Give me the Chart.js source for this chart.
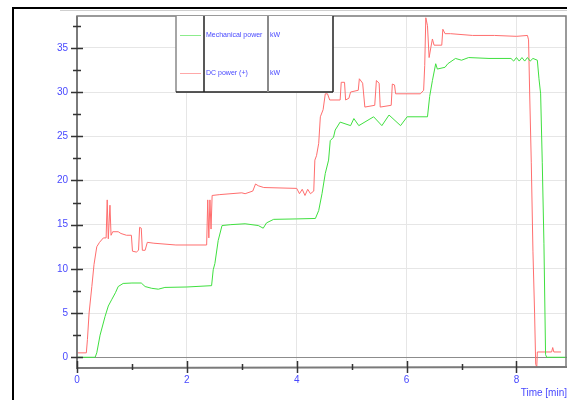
<!DOCTYPE html>
<html>
<head>
<meta charset="utf-8">
<script src="https://cdn.jsdelivr.net/npm/chart.js@4"></script>
<style>
  html, body { margin: 0; padding: 0; background: #fff; }
  #wrap { width: 567px; height: 400px; }
</style>
</head>
<body>
<div id="wrap"><canvas id="power-chart" width="567" height="400"></canvas></div>
<script>
// DC power (+) [kW] over time [min]
const dcTime = [0, 0.17, 0.19, 0.22, 0.27, 0.31, 0.36, 0.41, 0.48, 0.53, 0.55, 0.57, 0.60, 0.62, 0.65, 0.75, 0.80, 0.90, 0.99,
  1.01, 1.08, 1.12, 1.14, 1.17, 1.19, 1.24, 1.28, 1.40, 1.80, 2.36, 2.38, 2.40, 2.42, 2.44, 2.46, 2.60, 3.00, 3.06, 3.20,
  3.25, 3.30, 3.40, 4.00, 4.05, 4.10, 4.15, 4.20, 4.25, 4.31, 4.33, 4.36, 4.40, 4.43, 4.48, 4.52, 4.56, 4.60, 4.79, 4.81,
  4.87, 4.89, 4.95, 4.98, 5.12, 5.14, 5.20, 5.24, 5.42, 5.45, 5.50, 5.52, 5.72, 5.74, 5.78, 5.80, 6.25, 6.31, 6.33, 6.35,
  6.38, 6.41, 6.44, 6.47, 6.50, 6.64, 6.66, 6.70, 6.80, 7.20, 7.60, 8.00, 8.20, 8.22, 8.24, 8.27, 8.30, 8.33, 8.35, 8.37,
  8.38, 8.64, 8.66, 8.68, 8.81];
const dcPower = [0.5, 0.5, 2.0, 5.0, 8.0, 10.5, 12.5, 13.0, 13.5, 13.5, 17.8, 13.4, 17.2, 13.8, 14.2, 14.2, 14.0, 13.8, 13.8,
  12.0, 11.9, 12.1, 14.7, 14.6, 12.1, 12.1, 13.0, 12.9, 12.7, 12.7, 17.8, 13.5, 17.8, 14.5, 18.3, 18.4, 18.6, 18.5, 18.8,
  19.6, 19.4, 19.2, 19.1, 18.5, 19.0, 18.3, 19.0, 18.5, 18.8, 22.3, 22.8, 24.2, 27.2, 28.0, 29.8, 29.8, 29.1, 29.1, 31.1,
  31.1, 29.1, 29.3, 30.0, 30.2, 31.5, 31.0, 28.3, 28.5, 31.3, 31.0, 28.3, 28.5, 30.9, 30.8, 29.8, 29.8, 30.2, 33.0, 38.4,
  37.5, 33.9, 35.0, 36.0, 35.3, 35.3, 37.1, 36.6, 36.6, 36.4, 36.4, 36.3, 36.4, 35.9, 30.0, 22.0, 12.0, 5.0, -0.8, -1.1,
  0.6, 0.6, 1.1, 0.6, 0.6];

// Mechanical power [kW] over time [min]
const mechTime = [0, 0.33, 0.36, 0.42, 0.51, 0.57, 0.63, 0.70, 0.75, 0.84, 1.00, 1.17, 1.24, 1.36, 1.48, 1.60, 2.00, 2.45,
  2.48, 2.51, 2.57, 2.64, 2.80, 3.06, 3.30, 3.39, 3.45, 3.58, 4.00, 4.34, 4.40, 4.46, 4.52, 4.58, 4.61, 4.67, 4.70, 4.79,
  4.98, 5.04, 5.13, 5.40, 5.55, 5.68, 5.89, 6.01, 6.38, 6.42, 6.47, 6.53, 6.56, 6.70, 6.75, 6.89, 7.00, 7.13, 7.50, 7.90,
  7.95, 8.00, 8.05, 8.10, 8.15, 8.20, 8.25, 8.30, 8.38, 8.41, 8.44, 8.47, 8.50, 8.53, 8.55, 8.92];
const mechPower = [0, 0, 0.5, 2.5, 4.6, 5.8, 6.5, 7.3, 8.0, 8.35, 8.4, 8.4, 8.0, 7.8, 7.7, 7.9, 7.95, 8.1,
  9.9, 10.6, 13.2, 14.9, 15.0, 15.1, 14.9, 14.6, 15.2, 15.6, 15.65, 15.7, 16.6, 18.5, 20.8, 22.3, 24.5, 24.9, 25.7, 26.6,
  26.2, 27.0, 26.2, 27.2, 26.2, 27.4, 26.2, 27.2, 27.2, 29.5, 31.3, 33.2, 32.6, 32.8, 33.2, 33.8, 33.6, 33.9, 33.8, 33.8,
  33.5, 33.9, 33.5, 33.9, 33.5, 33.9, 33.5, 33.8, 33.6, 31.5, 29.8, 22.0, 12.9, 0.3, 0, 0];

const xTicks = [0, 2, 4, 6, 8];
const yTicks = [0, 5, 10, 15, 20, 25, 30, 35];
const seriesNames = ['Mechanical power', 'DC power (+)'];
const seriesUnits = ['kW', 'kW'];

const BLUE = '#4848ff';
const GREEN = '#3fe03f';
const RED = '#ff6e6e';

function toPoints(xs, ys) {
  return xs.map((x, i) => ({ x: x, y: ys[i] }));
}

// outer frame, axis box with crossing ticks, and the table style legend
const framePlugin = {
  id: 'frame',
  beforeDraw(chart) {
    const c = chart.ctx;
    c.save();
    c.fillStyle = '#fff';
    c.fillRect(0, 0, chart.width, chart.height);
    c.strokeStyle = '#000';
    c.lineWidth = 2;
    c.beginPath();
    c.moveTo(13, 410); c.lineTo(13, 8); c.lineTo(567, 8);
    c.stroke();
    c.strokeStyle = '#cfcfcf';
    c.lineWidth = 1;
    c.beginPath(); c.moveTo(60, 10.5); c.lineTo(567, 10.5); c.stroke();
    c.restore();
  },
  afterDatasetsDraw(chart) {
    const c = chart.ctx;
    const a = chart.chartArea;
    const xs = chart.scales.x, ys = chart.scales.y;
    c.save();
    // plot box
    c.strokeStyle = '#7a7a7a';
    c.lineWidth = 1.5;
    c.beginPath();
    c.moveTo(a.left, a.bottom); c.lineTo(a.left, a.top); c.lineTo(a.right - 1, a.top); c.lineTo(a.right - 1, a.bottom);
    c.stroke();
    c.lineWidth = 2;
    c.beginPath();
    c.moveTo(a.left, a.top); c.lineTo(a.left, a.bottom + 1); c.lineTo(a.right + 1, a.bottom);
    c.stroke();
    // ticks
    c.strokeStyle = '#333';
    c.lineWidth = 1.5;
    c.beginPath();
    for (let v = 0; v <= 37.5; v += 2.5) {
      const y = Math.round(ys.getPixelForValue(v)) + 0.5;
      const major = v % 5 === 0;
      c.moveTo(a.left - (major ? 6 : 4), y);
      c.lineTo(a.left + (major ? 6 : 4), y);
    }
    for (let v = 0; v <= 8; v += 1) {
      const x = Math.round(xs.getPixelForValue(v)) + 0.5;
      const major = v % 2 === 0;
      c.moveTo(x, a.bottom - (major ? 6 : 3));
      c.lineTo(x, a.bottom + (major ? 6 : 3));
    }
    c.stroke();

    // legend table
    const L = 176, d1 = 204, d2 = 268, R = 333, T = a.top, B = 92;
    c.fillStyle = '#fff';
    c.fillRect(L, T, R - L, B - T);
    c.lineWidth = 1.5;
    c.strokeStyle = '#888';
    c.beginPath(); c.moveTo(L, T); c.lineTo(L, B); c.stroke();
    c.strokeStyle = '#222';
    c.beginPath(); c.moveTo(d1, T); c.lineTo(d1, B); c.moveTo(R, T); c.lineTo(R, B); c.moveTo(L, B); c.lineTo(R, B); c.stroke();
    c.strokeStyle = '#8a8a8a';
    c.lineWidth = 2;
    c.beginPath(); c.moveTo(d2, T); c.lineTo(d2, B); c.stroke();
    const rows = [35, 73];
    const colors = [GREEN, RED];
    c.font = '7px "Liberation Sans", Arial, sans-serif';
    c.textBaseline = 'middle';
    rows.forEach((y, i) => {
      c.strokeStyle = colors[i];
      c.globalAlpha = 0.6;
      c.lineWidth = 1;
      c.beginPath(); c.moveTo(180, y + 0.5); c.lineTo(201, y + 0.5); c.stroke();
      c.globalAlpha = 1;
      c.fillStyle = BLUE;
      c.fillText(seriesNames[i], 206, y);
      c.fillText(seriesUnits[i], 270, y);
    });
    c.restore();
  }
};

new Chart(document.getElementById('power-chart'), {
  type: 'line',
  data: {
    datasets: [
      {
        label: seriesNames[0],
        data: toPoints(mechTime, mechPower),
        borderColor: GREEN,
        borderWidth: 1,
        pointRadius: 0,
        tension: 0,
        fill: false
      },
      {
        label: seriesNames[1],
        data: toPoints(dcTime, dcPower),
        borderColor: RED,
        borderWidth: 1,
        pointRadius: 0,
        tension: 0,
        fill: false
      }
    ]
  },
  options: {
    responsive: false,
    animation: false,
    events: [],
    layout: { padding: { top: 16, right: 0, left: 0, bottom: 0 } },
    plugins: { legend: { display: false }, tooltip: { enabled: false } },
    scales: {
      x: {
        type: 'linear',
        min: 0,
        max: 8.92,
        afterFit: s => { s.height = 33; },
        afterBuildTicks: s => { s.ticks = xTicks.map(v => ({ value: v })); },
        grid: { color: ctx => ctx.tick && ctx.tick.value === 0 ? 'rgba(0,0,0,0)' : '#e6e6e6', lineWidth: 1, drawTicks: false },
        border: { display: false },
        ticks: {
          color: BLUE,
          padding: 7,
          maxRotation: 0,
          font: { family: '"Liberation Sans", Arial, sans-serif', size: 10 }
        },
        title: {
          display: true,
          text: 'Time [min]',
          align: 'end',
          color: BLUE,
          padding: { top: 0, bottom: 1 },
          font: { family: '"Liberation Sans", Arial, sans-serif', size: 10 }
        }
      },
      y: {
        min: -1.1,
        max: 38.6,
        afterFit: s => { s.width = 77; },
        afterBuildTicks: s => { s.ticks = yTicks.map(v => ({ value: v })); },
        grid: { color: ctx => ctx.tick && ctx.tick.value === 0 ? '#8c8c8c' : '#e6e6e6', lineWidth: 1, drawTicks: false },
        border: { display: false },
        ticks: {
          color: BLUE,
          padding: 9,
          font: { family: '"Liberation Sans", Arial, sans-serif', size: 10 }
        }
      }
    }
  },
  plugins: [framePlugin]
});
</script>
</body>
</html>
